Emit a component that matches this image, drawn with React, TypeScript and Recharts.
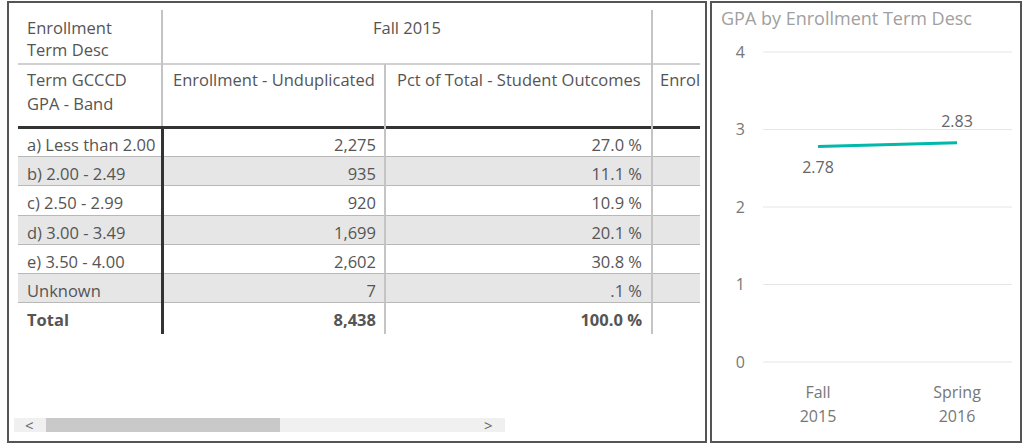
import { LineChart, Line, XAxis, YAxis, CartesianGrid, LabelList } from 'recharts'

const GPA_BANDS = ['a) Less than 2.00', 'b) 2.00 - 2.49', 'c) 2.50 - 2.99', 'd) 3.00 - 3.49', 'e) 3.50 - 4.00', 'Unknown']
const ENROLLMENT = [2275, 935, 920, 1699, 2602, 7]
const PCT_OF_TOTAL = [27.0, 11.1, 10.9, 20.1, 30.8, 0.1]
const TOTAL_ENROLLMENT = 8438
const TOTAL_PCT = 100.0

const TERMS = ['Fall 2015', 'Spring 2016']
const GPA = [2.78, 2.83]
const GPA_TICKS = [0, 1, 2, 3, 4]

const FONT = '"Open Sans", "Noto Sans", sans-serif'
const TEXT = '#555'
const TEAL = '#01B8AA'
const FS = 16.5

const fmtPct = (v: number) => (v < 1 ? v.toFixed(1).replace(/^0/, '') : v.toFixed(1)) + ' %'

const lineData = TERMS.map((term, i) => ({ term, gpa: GPA[i] }))

const ROW_TOP = 128
const ROW_H = 29.2

function TermTick({ x, y, payload }: any) {
  const [a, b] = String(payload.value).split(' ')
  return (
    <text x={x} y={y} textAnchor="middle" fill="#777" fontSize={16} fontFamily={FONT}>
      <tspan x={x} dy={34}>{a}</tspan>
      <tspan x={x} dy={24}>{b}</tspan>
    </text>
  )
}

function GpaLabel({ x, y, value, index }: any) {
  const dy = index === 0 ? 26 : -16
  return (
    <text x={x} y={y + dy} textAnchor="middle" fill="#666" fontSize={16} fontFamily={FONT}>
      {Number(value).toFixed(2)}
    </text>
  )
}

function abs(left: number, top: number, width: number, height: number, extra: any = {}) {
  return { position: 'absolute' as const, left, top, width, height, ...extra }
}

function MatrixTable() {
  const rowBg = (i: number) => (i % 2 === 1 ? '#e6e6e6' : '#fff')
  const cell = { lineHeight: ROW_H + 'px', whiteSpace: 'nowrap', paddingTop: 2 }
  const rowTop = (i: number) => ROW_TOP + i * ROW_H
  return (
    <div style={abs(7, 1, 700, 442, { border: '2px solid #555', boxSizing: 'border-box', background: '#fff', overflow: 'hidden' })}>
      <div style={{ position: 'absolute', left: -9, top: -3, width: 1034, height: 445, fontFamily: FONT, fontSize: FS, color: TEXT }}>
        {/* body row shading + borders */}
        {GPA_BANDS.map((band, i) => (
          <div key={band} style={abs(18, rowTop(i), 682, ROW_H, { background: rowBg(i), borderBottom: '1px solid #b8b8b8', boxSizing: 'border-box' })} />
        ))}

        {/* header lines */}
        <div style={abs(18, 63, 682, 1.5, { background: '#d0d0d0' })} />
        <div style={abs(18, 126, 682, 2.5, { background: '#333' })} />
        <div style={abs(161, 10, 1.5, 116, { background: '#c4c4c4' })} />
        <div style={abs(161, 128, 2.5, 206, { background: '#333' })} />
        <div style={abs(384, 64, 1.5, 270, { background: '#c4c4c4' })} />
        <div style={abs(651, 10, 1.5, 324, { background: '#c4c4c4' })} />

        {/* header text */}
        <div style={abs(27, 17, 130, 46, { lineHeight: '22px' })}>Enrollment<br />Term Desc</div>
        <div style={abs(163, 17, 488, 22, { lineHeight: '22px', textAlign: 'center' })}>{TERMS[0]}</div>
        <div style={abs(27, 68, 130, 50, { lineHeight: '24px' })}>Term GCCCD<br />GPA - Band</div>
        <div style={abs(173, 68, 210, 24, { lineHeight: '24px', whiteSpace: 'nowrap' })}>Enrollment - Unduplicated</div>
        <div style={abs(397, 68, 254, 24, { lineHeight: '24px', whiteSpace: 'nowrap' })}>Pct of Total - Student Outcomes</div>
        <div style={abs(660, 68, 40, 24, { lineHeight: '24px', whiteSpace: 'nowrap' })}>Enrol</div>

        {/* body text */}
        {GPA_BANDS.map((band, i) => (
          <div key={'t' + band}>
            <div style={abs(27, rowTop(i), 134, ROW_H, cell)}>{band}</div>
            <div style={abs(170, rowTop(i), 206, ROW_H, { ...cell, textAlign: 'right' })}>{ENROLLMENT[i].toLocaleString('en-US')}</div>
            <div style={abs(390, rowTop(i), 252, ROW_H, { ...cell, textAlign: 'right' })}>{fmtPct(PCT_OF_TOTAL[i])}</div>
          </div>
        ))}
        <div style={abs(27, rowTop(6), 134, ROW_H, { ...cell, fontWeight: 700 })}>Total</div>
        <div style={abs(170, rowTop(6), 206, ROW_H, { ...cell, textAlign: 'right', fontWeight: 700 })}>{TOTAL_ENROLLMENT.toLocaleString('en-US')}</div>
        <div style={abs(390, rowTop(6), 252, ROW_H, { ...cell, textAlign: 'right', fontWeight: 700 })}>{fmtPct(TOTAL_PCT)}</div>

        {/* scrollbar */}
        <div style={abs(14, 418, 491, 14, { background: '#f0f0f0' })} />
        <div style={abs(46, 418, 234, 14, { background: '#c9c9c9' })} />
        <div style={abs(25, 415, 14, 20, { fontSize: 15, color: '#666', lineHeight: '20px' })}>&lt;</div>
        <div style={abs(484, 415, 14, 20, { fontSize: 15, color: '#666', lineHeight: '20px' })}>&gt;</div>
      </div>
    </div>
  )
}

export default function App() {
  return (
    <div style={{ position: 'relative', width: 1034, height: 445, background: '#fff', overflow: 'hidden' }}>
      <style>{'body{margin:0}'}</style>
      <MatrixTable />
      <div style={abs(710, 1, 312, 442, { border: '2px solid #555', boxSizing: 'border-box', background: '#fff' })} />
      <div style={abs(721, 6, 300, 24, { fontFamily: FONT, fontSize: 18, color: '#a0a0a0', lineHeight: '24px', whiteSpace: 'nowrap' })}>
        GPA by Enrollment Term Desc
      </div>
      <div style={abs(711, 2, 310, 440)}>
        <LineChart width={310} height={440} data={lineData} margin={{ top: 50, right: 9, bottom: 20, left: 0 }}>
          <CartesianGrid vertical={false} stroke="#e6e6e6" />
          <XAxis dataKey="term" scale="point" height={60} padding={{ left: 55, right: 55 }} axisLine={false} tickLine={false} tickSize={0} interval={0} tick={<TermTick />} />
          <YAxis domain={[0, 4]} ticks={GPA_TICKS} width={52} axisLine={false} tickLine={false} tickSize={0} tickMargin={18}
            tick={{ fill: '#777', fontSize: 16, fontFamily: FONT }} />
          <Line type="linear" dataKey="gpa" stroke={TEAL} strokeWidth={3} dot={false} activeDot={false} isAnimationActive={false}>
            <LabelList dataKey="gpa" content={<GpaLabel />} />
          </Line>
        </LineChart>
      </div>
    </div>
  )
}
